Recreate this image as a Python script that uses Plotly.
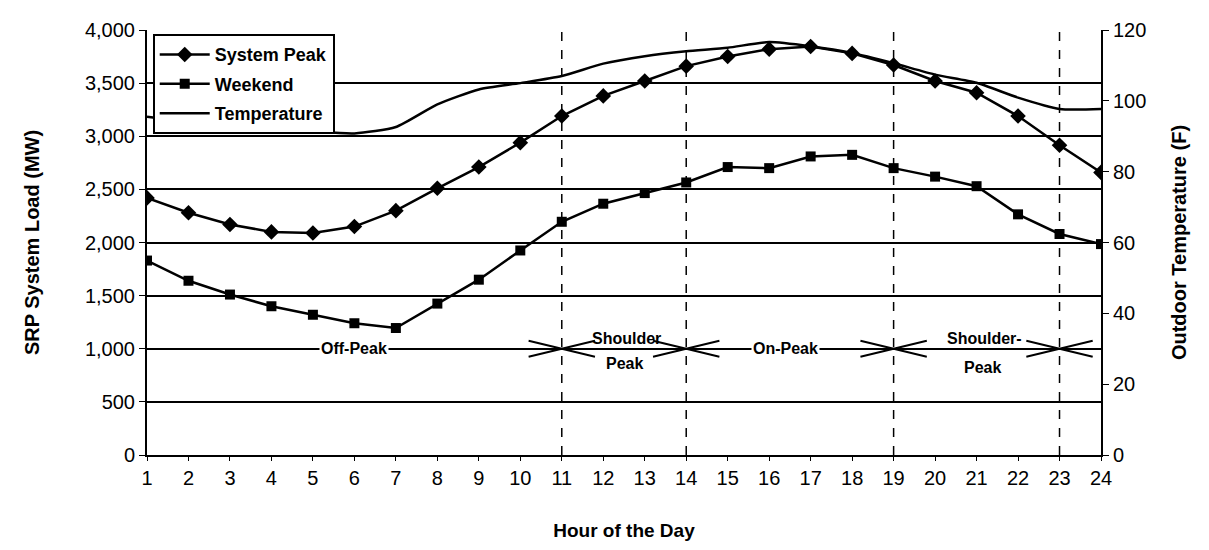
import plotly.graph_objects as go

hours = list(range(1, 25))
system_peak = [2420, 2280, 2170, 2100, 2090, 2150, 2300, 2510, 2710, 2940, 3190, 3380,
               3520, 3660, 3750, 3820, 3845, 3780, 3670, 3520, 3410, 3190, 2915, 2660]
weekend = [1830, 1640, 1510, 1400, 1320, 1240, 1195, 1425, 1650, 1925, 2195, 2365,
           2465, 2565, 2710, 2700, 2810, 2825, 2700, 2620, 2530, 2265, 2080, 1985]
temperature = [95.5, 94.0, 93.0, 92.0, 91.3, 90.8, 92.6, 99.0, 103.2, 105.0, 107.0, 110.5,
               112.6, 114.0, 115.0, 116.6, 115.4, 113.5, 110.6, 107.4, 105.1, 100.9, 97.7, 97.7]

load_ticks = list(range(0, 4001, 500))
temp_ticks = list(range(0, 121, 20))

period_bounds = [11, 14, 19, 23]
period_level = 1000
period_labels = [
    ("Off-Peak", 6.0, 1000, True),
    ("Shoulder", 12.55, 1100, False),
    ("Peak", 12.5, 860, False),
    ("On-Peak", 16.4, 1000, True),
    ("Shoulder-", 21.2, 1095, False),
    ("Peak", 21.15, 825, False),
]

FONT = "Liberation Sans, Arial, sans-serif"
NARROW = "Liberation Sans Narrow, Liberation Sans, Arial, sans-serif"

fig = go.Figure()
fig.add_trace(go.Scatter(
    x=hours, y=system_peak, name="System Peak", mode="lines+markers", legendgroup="a",
    line=dict(color="black", width=2.5),
    marker=dict(symbol="diamond", size=12, color="black"),
))
fig.add_trace(go.Scatter(
    x=hours, y=weekend, name="Weekend", mode="lines+markers", legendgroup="b",
    line=dict(color="black", width=2.5),
    marker=dict(symbol="square", size=10, color="black"),
))
fig.add_trace(go.Scatter(
    x=hours, y=temperature, name="Temperature", mode="lines", yaxis="y2", legendgroup="c",
    line=dict(color="black", width=2.5, shape="spline", smoothing=0.6),
))

shapes = []
for b in period_bounds:
    shapes.append(dict(type="line", xref="x", yref="paper", x0=b, x1=b, y0=0, y1=1,
                       line=dict(color="black", width=1.5, dash="dash"), layer="below"))
    for side in (-1, 1):
        for dy in (75, -75):
            shapes.append(dict(type="line", xref="x", yref="y",
                               x0=b + side * 0.8, y0=period_level + dy, x1=b, y1=period_level,
                               line=dict(color="black", width=2)))

annotations = []
for text, xc, yc, bg in period_labels:
    annotations.append(dict(x=xc, y=yc, xref="x", yref="y", text=text, showarrow=False,
                            font=dict(family=FONT, size=16, color="black", weight="bold"),
                            bgcolor="white" if bg else None, borderpad=1))

fig.update_layout(
    width=1201, height=542,
    margin=dict(l=139, r=108, t=11, b=95),
    paper_bgcolor="white", plot_bgcolor="white",
    font=dict(family=FONT, color="black"),
    showlegend=True,
    legend=dict(x=0.006, y=0.99, xanchor="left", yanchor="top",
                bgcolor="white", bordercolor="black", borderwidth=2,
                font=dict(family=FONT, size=18, color="black", weight="bold"),
                traceorder="grouped", tracegroupgap=3, itemwidth=50),
    xaxis=dict(
        range=[1, 24], tickmode="array", tickvals=hours, ticktext=[str(h) for h in hours],
        showgrid=False, zeroline=False, showline=True, linecolor="black", linewidth=2,
        ticks="outside", ticklen=4, tickcolor="black",
        tickfont=dict(family=NARROW, size=20, color="black"),
        title=dict(text="Hour of the Day", standoff=36,
                   font=dict(family=FONT, size=19, color="black", weight="bold")),
    ),
    yaxis=dict(
        range=[0, 4000], tickmode="array", tickvals=load_ticks,
        ticktext=[f"{v:,}" for v in load_ticks],
        showgrid=True, gridcolor="black", gridwidth=2,
        zeroline=False, showline=True, linecolor="black", linewidth=2,
        ticks="outside", ticklen=6, tickcolor="black",
        tickfont=dict(family=FONT, size=20, color="black"),
        title=dict(text="SRP System Load (MW)", standoff=40,
                   font=dict(family=FONT, size=20, color="black", weight="bold")),
    ),
    yaxis2=dict(
        range=[0, 120], tickmode="array", tickvals=temp_ticks,
        overlaying="y", side="right", showgrid=False, zeroline=False,
        showline=True, linecolor="black", linewidth=2,
        ticks="outside", ticklen=6, tickcolor="black",
        tickfont=dict(family=FONT, size=20, color="black"),
        title=dict(text="Outdoor Temperature (F)", standoff=27,
                   font=dict(family=FONT, size=20, color="black", weight="bold")),
    ),
    shapes=shapes,
    annotations=annotations,
)

fig.write_html("out.html")
